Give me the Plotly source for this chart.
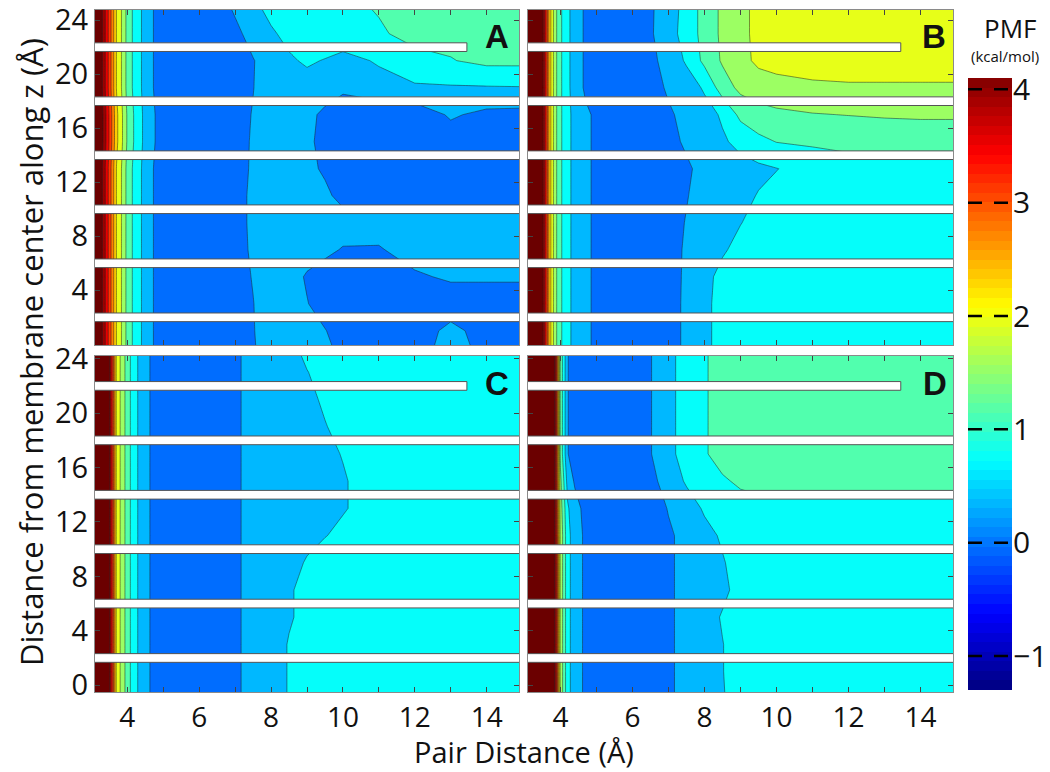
import plotly.graph_objects as go

# grid of the PMF maps: pair distance (Å) and height above membrane centre (Å)
pair_dist = [3.1, 3.3, 3.5, 3.7, 3.85, 4.0, 4.2, 4.4, 4.7, 5.5, 6.5, 7.0,
             7.5, 8.0, 8.5, 9.0, 9.5, 10, 11, 12, 13, 14, 14.9]
z_height = [-0.5, 1, 3, 5, 7, 9, 11, 13, 15, 17, 19, 21, 23, 24.8]

# PMF (kcal/mol), one row per z_height value
pmf_A = [
    [5.6, 4.12, 3.15, 2.08, 1.66, 1.17, 0.78, 0.49, 0.11, -0.2, -0.2, -0.05, 0.06, 0.3, 0.32, 0.3, 0.2, 0.0, -0.1, -0.05, 0.25, 0.0, -0.1],
    [5.6, 4.12, 3.15, 2.08, 1.66, 1.17, 0.78, 0.49, 0.11, -0.2, -0.2, -0.05, 0.08, 0.3, 0.32, 0.25, 0.12, -0.1, -0.15, -0.1, 0.2, -0.05, -0.1],
    [5.6, 4.12, 3.15, 2.08, 1.66, 1.17, 0.78, 0.49, 0.11, -0.2, -0.2, -0.05, 0.09, 0.3, 0.3, 0.12, -0.1, -0.15, -0.15, -0.15, -0.1, -0.1, -0.1],
    [5.6, 4.12, 3.15, 2.08, 1.66, 1.17, 0.78, 0.49, 0.11, -0.2, -0.2, -0.05, 0.12, 0.3, 0.3, 0.05, -0.1, -0.15, -0.15, 0.05, 0.15, 0.15, 0.15],
    [5.6, 4.12, 3.15, 2.08, 1.66, 1.17, 0.78, 0.49, 0.11, -0.2, -0.2, -0.05, 0.16, 0.3, 0.32, 0.3, 0.2, 0.07, 0.07, 0.25, 0.3, 0.3, 0.3],
    [5.6, 4.12, 3.15, 2.08, 1.66, 1.17, 0.78, 0.49, 0.11, -0.2, -0.2, -0.05, 0.18, 0.3, 0.35, 0.35, 0.3, 0.3, 0.25, 0.25, 0.25, 0.25, 0.25],
    [5.6, 4.12, 3.15, 2.08, 1.66, 1.17, 0.78, 0.49, 0.11, -0.2, -0.2, -0.05, 0.18, 0.3, 0.32, 0.3, 0.2, -0.05, -0.15, -0.15, -0.15, -0.15, -0.1],
    [5.6, 4.12, 3.15, 2.08, 1.66, 1.17, 0.78, 0.49, 0.11, -0.2, -0.2, -0.05, 0.15, 0.3, 0.3, 0.22, 0.03, -0.15, -0.15, -0.15, -0.15, -0.12, -0.1],
    [5.6, 4.2, 3.25, 2.2, 1.75, 1.25, 0.85, 0.53, 0.13, -0.2, -0.2, -0.05, 0.14, 0.3, 0.3, 0.2, -0.05, -0.15, -0.15, -0.15, -0.1, -0.1, -0.05],
    [5.6, 4.2, 3.25, 2.2, 1.75, 1.25, 0.85, 0.53, 0.13, -0.2, -0.2, -0.05, 0.12, 0.3, 0.3, 0.2, 0.02, -0.15, -0.15, -0.15, 0.15, 0.0, -0.02],
    [5.6, 4.12, 3.15, 2.08, 1.66, 1.17, 0.78, 0.49, 0.11, -0.2, -0.2, -0.05, 0.09, 0.3, 0.35, 0.35, 0.28, 0.18, 0.32, 0.44, 0.46, 0.47, 0.48],
    [5.6, 4.12, 3.15, 2.08, 1.66, 1.17, 0.78, 0.49, 0.11, -0.2, -0.2, -0.1, 0.08, 0.3, 0.45, 0.55, 0.48, 0.35, 0.55, 0.8, 0.88, 1.0, 1.0],
    [5.6, 4.12, 3.15, 2.08, 1.66, 1.17, 0.78, 0.49, 0.11, -0.2, -0.15, 0.0, 0.25, 0.45, 0.6, 0.7, 0.75, 0.8, 0.86, 1.0, 1.02, 1.02, 1.02],
    [5.6, 4.12, 3.15, 2.08, 1.66, 1.17, 0.78, 0.49, 0.11, -0.2, -0.1, 0.15, 0.4, 0.6, 0.7, 0.75, 0.8, 0.82, 0.92, 1.0, 1.05, 1.05, 1.05],
]

pmf_B = [
    [6.8, 5.5, 4.3, 2.3, 1.45, 0.97, 0.6, 0.38, 0.17, -0.2, -0.15, -0.05, 0.17, 0.42, 0.62, 0.68, 0.7, 0.72, 0.72, 0.72, 0.72, 0.72, 0.72],
    [6.8, 5.5, 4.3, 2.3, 1.45, 0.97, 0.6, 0.38, 0.17, -0.2, -0.15, -0.05, 0.17, 0.42, 0.62, 0.68, 0.7, 0.72, 0.72, 0.72, 0.72, 0.72, 0.72],
    [6.8, 5.5, 4.3, 2.3, 1.45, 0.97, 0.6, 0.38, 0.17, -0.2, -0.15, -0.05, 0.17, 0.42, 0.62, 0.68, 0.7, 0.72, 0.72, 0.72, 0.72, 0.72, 0.72],
    [6.8, 5.5, 4.3, 2.3, 1.45, 0.97, 0.6, 0.38, 0.17, -0.2, -0.15, -0.05, 0.16, 0.4, 0.6, 0.68, 0.7, 0.72, 0.72, 0.72, 0.72, 0.72, 0.72],
    [6.8, 5.5, 4.3, 2.3, 1.45, 0.97, 0.6, 0.38, 0.17, -0.2, -0.15, -0.05, 0.15, 0.3, 0.46, 0.6, 0.68, 0.7, 0.72, 0.72, 0.72, 0.72, 0.72],
    [6.8, 5.5, 4.3, 2.3, 1.45, 0.97, 0.6, 0.38, 0.17, -0.2, -0.15, -0.05, 0.12, 0.28, 0.38, 0.49, 0.6, 0.68, 0.72, 0.72, 0.72, 0.72, 0.72],
    [6.8, 5.5, 4.3, 2.3, 1.45, 0.97, 0.6, 0.38, 0.17, -0.2, -0.15, -0.05, 0.08, 0.25, 0.32, 0.4, 0.52, 0.6, 0.7, 0.72, 0.72, 0.72, 0.72],
    [6.8, 5.5, 4.3, 2.3, 1.45, 0.97, 0.6, 0.38, 0.17, -0.2, -0.15, -0.05, 0.05, 0.2, 0.3, 0.38, 0.42, 0.49, 0.65, 0.75, 0.78, 0.78, 0.78],
    [6.8, 5.5, 4.3, 2.3, 1.45, 0.97, 0.6, 0.38, 0.17, -0.2, -0.15, 0.0, 0.15, 0.3, 0.45, 0.6, 0.8, 0.91, 0.96, 1.0, 1.02, 1.02, 1.02],
    [6.8, 5.5, 4.3, 2.3, 1.45, 0.97, 0.6, 0.38, 0.17, -0.2, -0.15, 0.05, 0.2, 0.35, 0.55, 1.0, 1.15, 1.22, 1.28, 1.31, 1.34, 1.36, 1.36],
    [6.8, 5.5, 4.3, 2.3, 1.45, 0.97, 0.58, 0.33, 0.03, -0.2, -0.05, 0.15, 0.3, 0.55, 1.1, 1.4, 1.5, 1.55, 1.62, 1.65, 1.65, 1.65, 1.65],
    [6.8, 5.5, 4.3, 2.3, 1.45, 0.97, 0.58, 0.33, 0.03, -0.2, 0.0, 0.25, 0.55, 1.0, 1.35, 1.58, 1.78, 1.85, 1.9, 1.9, 1.9, 1.9, 1.9],
    [6.8, 5.5, 4.3, 2.3, 1.45, 0.97, 0.58, 0.33, 0.03, -0.2, 0.05, 0.35, 0.65, 1.05, 1.38, 1.6, 1.8, 1.9, 1.95, 1.95, 1.95, 1.95, 1.95],
    [6.8, 5.5, 4.3, 2.3, 1.45, 0.97, 0.58, 0.33, 0.03, -0.2, 0.05, 0.3, 0.65, 1.05, 1.38, 1.6, 1.8, 1.9, 1.95, 1.95, 1.95, 1.95, 1.95],
]

pmf_C = [
    [6.2, 5.0, 4.15, 2.0, 1.55, 1.1, 0.62, 0.35, 0.02, -0.2, -0.15, 0.05, 0.2, 0.35, 0.52, 0.62, 0.68, 0.72, 0.76, 0.78, 0.78, 0.78, 0.78],
    [6.2, 5.0, 4.15, 2.0, 1.55, 1.1, 0.62, 0.35, 0.02, -0.2, -0.15, 0.05, 0.2, 0.35, 0.52, 0.62, 0.68, 0.72, 0.76, 0.78, 0.78, 0.78, 0.78],
    [6.2, 5.0, 4.15, 2.0, 1.55, 1.1, 0.62, 0.35, 0.02, -0.2, -0.15, 0.05, 0.2, 0.35, 0.52, 0.62, 0.68, 0.72, 0.76, 0.78, 0.78, 0.78, 0.78],
    [6.2, 5.0, 4.15, 2.0, 1.55, 1.1, 0.62, 0.35, 0.02, -0.2, -0.15, 0.05, 0.2, 0.33, 0.47, 0.58, 0.66, 0.72, 0.76, 0.78, 0.78, 0.78, 0.78],
    [6.2, 5.0, 4.15, 2.0, 1.55, 1.1, 0.62, 0.35, 0.02, -0.2, -0.15, 0.05, 0.2, 0.33, 0.47, 0.58, 0.66, 0.72, 0.76, 0.78, 0.78, 0.78, 0.78],
    [6.2, 5.0, 4.15, 2.0, 1.55, 1.1, 0.62, 0.35, 0.02, -0.2, -0.15, 0.05, 0.2, 0.32, 0.42, 0.52, 0.62, 0.7, 0.76, 0.78, 0.78, 0.78, 0.78],
    [6.2, 5.0, 4.15, 2.0, 1.55, 1.1, 0.62, 0.35, 0.02, -0.2, -0.15, 0.05, 0.2, 0.3, 0.38, 0.44, 0.49, 0.56, 0.7, 0.76, 0.78, 0.78, 0.78],
    [6.2, 5.0, 4.15, 2.0, 1.55, 1.1, 0.62, 0.35, 0.02, -0.2, -0.15, 0.05, 0.2, 0.3, 0.36, 0.42, 0.45, 0.48, 0.62, 0.72, 0.78, 0.78, 0.78],
    [6.2, 5.0, 4.15, 2.0, 1.55, 1.1, 0.62, 0.35, 0.02, -0.2, -0.15, 0.05, 0.2, 0.3, 0.36, 0.42, 0.45, 0.48, 0.62, 0.72, 0.78, 0.78, 0.78],
    [6.2, 5.0, 4.15, 2.0, 1.55, 1.1, 0.62, 0.35, 0.02, -0.2, -0.15, 0.05, 0.2, 0.3, 0.36, 0.4, 0.45, 0.51, 0.65, 0.74, 0.78, 0.78, 0.78],
    [6.2, 5.0, 4.15, 2.0, 1.55, 1.1, 0.62, 0.35, 0.02, -0.2, -0.15, 0.05, 0.2, 0.3, 0.36, 0.42, 0.49, 0.56, 0.68, 0.76, 0.78, 0.78, 0.78],
    [6.2, 5.0, 4.15, 2.0, 1.55, 1.1, 0.62, 0.35, 0.02, -0.2, -0.15, 0.05, 0.2, 0.3, 0.38, 0.45, 0.53, 0.62, 0.72, 0.76, 0.78, 0.78, 0.78],
    [6.2, 5.0, 4.15, 2.0, 1.55, 1.1, 0.62, 0.35, 0.02, -0.2, -0.15, 0.05, 0.2, 0.3, 0.4, 0.49, 0.6, 0.68, 0.74, 0.78, 0.78, 0.78, 0.78],
    [6.2, 5.0, 4.15, 2.0, 1.55, 1.1, 0.62, 0.35, 0.02, -0.2, -0.15, 0.05, 0.2, 0.32, 0.42, 0.58, 0.65, 0.72, 0.76, 0.78, 0.78, 0.78, 0.78],
]

pmf_D = [
    [8.0, 7.0, 6.0, 5.0, 4.0, 1.6, 0.62, 0.3, 0.02, -0.2, -0.12, 0.05, 0.2, 0.33, 0.48, 0.64, 0.72, 0.76, 0.78, 0.78, 0.78, 0.78, 0.78],
    [8.0, 7.0, 6.0, 5.0, 4.0, 1.6, 0.62, 0.3, 0.02, -0.2, -0.12, 0.05, 0.2, 0.33, 0.49, 0.65, 0.72, 0.76, 0.78, 0.78, 0.78, 0.78, 0.78],
    [8.0, 7.0, 6.0, 5.0, 4.0, 1.6, 0.62, 0.3, 0.02, -0.2, -0.12, 0.05, 0.2, 0.33, 0.49, 0.65, 0.72, 0.76, 0.78, 0.78, 0.78, 0.78, 0.78],
    [8.0, 7.0, 6.0, 5.0, 4.0, 1.6, 0.62, 0.3, 0.02, -0.2, -0.12, 0.05, 0.2, 0.35, 0.53, 0.65, 0.72, 0.76, 0.78, 0.78, 0.78, 0.78, 0.78],
    [8.0, 7.0, 6.0, 5.0, 4.0, 1.6, 0.62, 0.3, 0.02, -0.2, -0.12, 0.05, 0.2, 0.3, 0.42, 0.62, 0.72, 0.76, 0.78, 0.78, 0.78, 0.78, 0.78],
    [8.0, 7.0, 6.0, 5.0, 4.0, 1.6, 0.62, 0.3, 0.02, -0.2, -0.12, 0.05, 0.2, 0.32, 0.47, 0.65, 0.72, 0.76, 0.78, 0.78, 0.78, 0.78, 0.78],
    [8.0, 7.0, 6.0, 5.0, 4.0, 1.6, 0.62, 0.3, 0.02, -0.2, -0.12, 0.05, 0.2, 0.38, 0.55, 0.7, 0.75, 0.78, 0.8, 0.8, 0.8, 0.8, 0.8],
    [8.0, 7.0, 6.0, 5.0, 4.0, 1.5, 0.55, 0.25, -0.02, -0.2, -0.1, 0.12, 0.3, 0.55, 0.72, 0.78, 0.8, 0.8, 0.8, 0.8, 0.8, 0.8, 0.8],
    [8.0, 7.0, 6.0, 5.0, 4.0, 1.4, 0.35, 0.05, -0.1, -0.2, 0.0, 0.25, 0.55, 0.75, 0.86, 0.95, 1.0, 1.02, 1.02, 1.02, 1.02, 1.02, 1.02],
    [8.0, 7.0, 6.0, 5.0, 4.0, 1.2, 0.12, -0.1, -0.15, -0.2, 0.08, 0.4, 0.65, 0.87, 1.02, 1.08, 1.1, 1.1, 1.1, 1.1, 1.1, 1.1, 1.1],
    [8.0, 7.0, 6.0, 5.0, 4.0, 1.2, 0.12, -0.1, -0.15, -0.2, 0.08, 0.4, 0.65, 0.87, 1.02, 1.08, 1.1, 1.1, 1.1, 1.1, 1.1, 1.1, 1.1],
    [8.0, 7.0, 6.0, 5.0, 4.0, 1.2, 0.12, -0.1, -0.15, -0.2, 0.08, 0.4, 0.65, 0.87, 1.02, 1.08, 1.1, 1.1, 1.1, 1.1, 1.1, 1.1, 1.1],
    [8.0, 7.0, 6.0, 5.0, 4.0, 1.2, 0.12, -0.1, -0.15, -0.2, 0.08, 0.4, 0.65, 0.87, 1.02, 1.08, 1.1, 1.1, 1.1, 1.1, 1.1, 1.1, 1.1],
    [8.0, 7.0, 6.0, 5.0, 4.0, 1.2, 0.12, -0.1, -0.15, -0.2, 0.08, 0.4, 0.65, 0.87, 1.02, 1.08, 1.1, 1.1, 1.1, 1.1, 1.1, 1.1, 1.1],
]

panel_names = ["A", "B", "C", "D"]
bar_heights = [2, 6, 10, 14, 18, 22]   # white slab markers
cbar_ticks = [-1, 0, 1, 2, 3, 4]

FONT = "Open Sans"
CB_MIN, CB_MAX = -1.3, 4.1
LEV_START, LEV_END, LEV_SIZE = -0.7, 4.1, 0.4
SHADE_SHIFT = 0.05   # small nudge so band shades sit like the matlab ones


def jet(t):
    # matlab style jet, rgb clipped
    r = min(max(1.5 - abs(4 * t - 3), 0), 1)
    g = min(max(1.5 - abs(4 * t - 2), 0), 1)
    b = min(max(1.5 - abs(4 * t - 1), 0), 1)
    return "rgb(%d,%d,%d)" % (round(r * 255), round(g * 255), round(b * 255))


# plotly colours each filled band at its mid level over [start-size/2, end+size/2]
fill_lo = LEV_START - LEV_SIZE / 2
fill_hi = LEV_END + LEV_SIZE / 2
fill_scale = []
for i in range(101):
    v = fill_lo + i / 100 * (fill_hi - fill_lo) + SHADE_SHIFT
    fill_scale.append([i / 100, jet(min((v - CB_MIN) / (CB_MAX - CB_MIN), 1.02))])
bar_scale = [[i / 100, jet(i / 100)] for i in range(101)]

fig = go.Figure()
axes = [("x", "y"), ("x2", "y2"), ("x3", "y3"), ("x4", "y4")]
for pmf, (xa, ya) in zip([pmf_A, pmf_B, pmf_C, pmf_D], axes):
    fig.add_trace(go.Contour(
        x=pair_dist, y=z_height, z=pmf, xaxis=xa, yaxis=ya,
        autocontour=False,
        contours=dict(start=LEV_START, end=LEV_END, size=LEV_SIZE, coloring="fill"),
        colorscale=fill_scale, zmin=fill_lo, zmax=fill_hi, showscale=False,
        line=dict(color="rgba(30,30,30,0.7)", width=0.7, smoothing=0),
        hoverinfo="skip"))

# colour bar drawn as its own little heatmap (64 steps like matlab)
n_cb = 64
cb_vals = [CB_MIN + (i + 0.5) * (CB_MAX - CB_MIN) / n_cb for i in range(n_cb)]
fig.add_trace(go.Heatmap(x=[0], y=cb_vals, z=[[v] for v in cb_vals],
                         colorscale=bar_scale, zmin=CB_MIN, zmax=CB_MAX,
                         showscale=False, xaxis="x5", yaxis="y5", hoverinfo="skip"))

# page body adds an 8px margin, so the figure is 8px smaller and positions are
# given in screen pixels of the final picture
OFF = 8
W, H = 1050 - OFF, 772 - OFF
ML, MR, MT, MB = 95 - OFF, 30, 10 - OFF, 80
pw, ph = W - ML - MR, H - MT - MB


def px_x(px):
    return (px - OFF - ML) / pw


def px_y(py):
    return (H - MB - (py - OFF)) / ph


xdom_left = [0, px_x(519)]
xdom_right = [px_x(528), px_x(953)]
ydom_top = [px_y(345), 1]
ydom_bot = [0, px_y(356)]

TICKFONT = dict(family=FONT, size=29, color="#111")
common = dict(showline=True, linecolor="#8a8a8a", linewidth=1, mirror="ticks",
              ticks="inside", ticklen=5, tickcolor="#444", showgrid=False,
              zeroline=False, automargin=False, tickfont=TICKFONT,
              ticklabeloverflow="allow")


def xax(dom, anchor, labels):
    return dict(common, domain=dom, anchor=anchor, range=[3.1, 14.9],
                tickmode="linear", tick0=4, dtick=2, showticklabels=labels,
                ticklabelstandoff=0, tickfont=dict(TICKFONT, size=28),
                minor=dict(dtick=1, ticks="inside", ticklen=5, tickcolor="#444"))


def yax(dom, anchor, labels, rng, vals):
    return dict(common, domain=dom, anchor=anchor, range=rng,
                tickmode="array", tickvals=vals, showticklabels=labels)


top_rng = [-0.05, 24.75]
bot_rng = [-0.5, 24.2]
top_vals = [4, 8, 12, 16, 20, 24]
bot_vals = [0, 4, 8, 12, 16, 20, 24]

fig.update_layout(
    width=W, height=H,
    margin=dict(l=ML, r=MR, t=MT, b=MB, autoexpand=False),
    paper_bgcolor="white", plot_bgcolor="white",
    showlegend=False,
    font=dict(family=FONT, color="#111"),
    xaxis=xax(xdom_left, "y", False), yaxis=yax(ydom_top, "x", True, top_rng, top_vals),
    xaxis2=xax(xdom_right, "y2", False), yaxis2=yax(ydom_top, "x2", False, top_rng, top_vals),
    xaxis3=xax(xdom_left, "y3", True), yaxis3=yax(ydom_bot, "x3", True, bot_rng, bot_vals),
    xaxis4=xax(xdom_right, "y4", True), yaxis4=yax(ydom_bot, "x4", False, bot_rng, bot_vals),
    xaxis5=dict(domain=[px_x(968), px_x(1012)], anchor="y5", range=[-0.5, 0.5],
                visible=False, automargin=False),
    yaxis5=dict(domain=[px_y(690), px_y(78)], anchor="x5", range=[CB_MIN, CB_MAX],
                side="right", tickvals=cbar_ticks, ticks="", showline=False,
                showgrid=False, zeroline=False, automargin=False,
                ticklabeloverflow="allow", tickfont=dict(TICKFONT, size=30)),
)

# white slab markers across each panel
shapes = []
for xa, ya in axes:
    for h in bar_heights:
        x_end = 13.45 if h == bar_heights[-1] else 15.0
        shapes.append(dict(type="rect", xref=xa, yref=ya, x0=3.0, x1=x_end,
                           y0=h - 0.32, y1=h + 0.32, fillcolor="white",
                           line=dict(color="#555", width=1), layer="above"))
# dashed marks on the colour bar
for t in cbar_ticks:
    shapes.append(dict(type="line", xref="x5", yref="y5", x0=-0.5, x1=0.5, y0=t, y1=t,
                       line=dict(color="black", width=2.5, dash="14px,12px")))
fig.update_layout(shapes=shapes)


def label(text, px, py, size, family=FONT, angle=0):
    return dict(text=text, x=px_x(px), y=px_y(py), xref="paper", yref="paper",
                xanchor="center", yanchor="middle", showarrow=False, textangle=angle,
                font=dict(family=family, size=size, color="#111"))


annotations = []
letter_pos = [(497, 37), (934, 37), (497, 383), (935, 383)]
for name, (lx, ly) in zip(panel_names, letter_pos):
    annotations.append(label("<b>%s</b>" % name, lx, ly, 33, family="Liberation Sans"))
annotations += [
    label("Pair Distance (Å)", 524, 751, 29),
    label("Distance from membrane center along z (Å)", 31, 352, 31, angle=-90),
    label("PMF", 1010, 28, 26),
    label("(kcal/mol)", 1005, 56, 15),
]
fig.update_layout(annotations=annotations)

fig.write_html("out.html")
